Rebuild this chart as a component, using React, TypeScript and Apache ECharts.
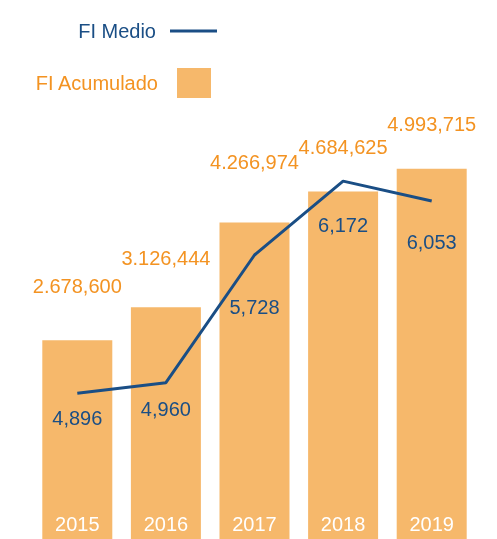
import React, { useEffect, useRef } from "react";
import * as echarts from "echarts";

const years = ["2015", "2016", "2017", "2018", "2019"];
const fiAcumulado = [2678600, 3126444, 4266974, 4684625, 4993715];
const fiMedio = [4896, 4960, 5728, 6172, 6053];
// label distances (px) from bar top / line point, as in the reference layout
const barLabelGap = [44, 39, 51, 35, 35];
const lineLabelGap = [15, 16, 42, 34, 31];

const FONT = "'Liberation Sans', Arial, sans-serif";
const BLUE = "#1A4E85";
const ORANGE_TEXT = "#F39322";
const BAR = "#F6B86B";

function fmtBar(v: number): string {
  const s = Math.round(v).toLocaleString("en-US");
  return s.replace(",", ".");
}
function fmtLine(v: number): string {
  return Math.round(v).toLocaleString("en-US");
}

export default function App() {
  const ref = useRef<HTMLDivElement>(null);
  useEffect(() => {
    if (!ref.current) return;
    const chart = echarts.init(ref.current, undefined, { renderer: "svg" });
    chart.setOption({
      animation: false,
      textStyle: { fontFamily: FONT },
      grid: { left: 33, right: 21, top: 100, bottom: 0, containLabel: false },
      xAxis: {
        type: "category",
        data: years,
        z: 10,
        axisLine: { show: false },
        axisTick: { show: false },
        axisLabel: {
          inside: true,
          color: "#FFFFFF",
          fontSize: 20,
          fontFamily: FONT,
          margin: 5,
        },
      },
      yAxis: [
        { type: "value", min: 0, max: 5920000, show: false, splitLine: { show: false } },
        { type: "value", min: 4020, max: 6660, show: false, splitLine: { show: false } },
      ],
      series: [
        {
          name: "FI Acumulado",
          type: "bar",
          yAxisIndex: 0,
          barCategoryGap: "21%",
          itemStyle: { color: BAR },
          data: fiAcumulado.map((v, i) => ({
            value: v,
            label: { distance: barLabelGap[i] },
          })),
          label: {
            show: true,
            position: "top",
            color: ORANGE_TEXT,
            fontSize: 20,
            fontFamily: FONT,
            formatter: (p: any) => fmtBar(p.value),
          },
          z: 1,
        },
        {
          name: "FI Medio",
          type: "line",
          yAxisIndex: 1,
          symbol: "circle",
          showSymbol: true,
          symbolSize: 0,
          lineStyle: { color: BLUE, width: 3 },
          itemStyle: { color: BLUE },
          data: fiMedio.map((v, i) => ({
            value: v,
            label: { distance: lineLabelGap[i] },
          })),
          label: {
            show: true,
            position: "bottom",
            color: BLUE,
            fontSize: 20,
            fontFamily: FONT,
            formatter: (p: any) => fmtLine(p.value),
          },
          z: 3,
        },
      ],
      graphic: [
        {
          type: "text",
          x: 156,
          y: 31,
          style: {
            text: "FI Medio",
            fill: BLUE,
            font: `20px ${FONT}`,
            textAlign: "right",
            textVerticalAlign: "middle",
          },
        },
        {
          type: "line",
          shape: { x1: 170, y1: 31, x2: 217, y2: 31 },
          style: { stroke: BLUE, lineWidth: 3 },
        },
        {
          type: "text",
          x: 158,
          y: 83,
          style: {
            text: "FI Acumulado",
            fill: ORANGE_TEXT,
            font: `20px ${FONT}`,
            textAlign: "right",
            textVerticalAlign: "middle",
          },
        },
        {
          type: "rect",
          shape: { x: 177, y: 68, width: 34, height: 30 },
          style: { fill: BAR },
        },
      ],
    });
    return () => chart.dispose();
  }, []);
  return (
    <div
      ref={ref}
      style={{ position: "fixed", left: 0, top: 0, width: 497, height: 539 }}
    />
  );
}
